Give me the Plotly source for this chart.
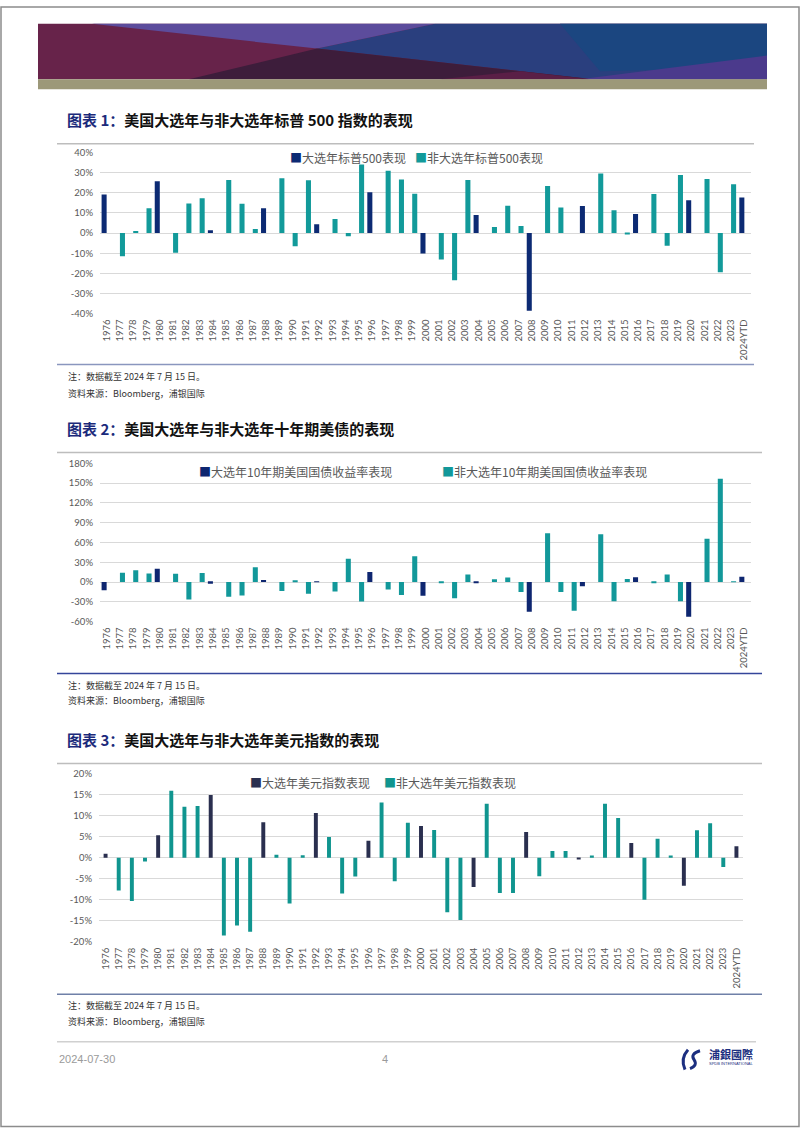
import plotly.graph_objects as go

W, H = 802, 1133

# ---------------- data ----------------
years = [str(y) for y in range(1976, 2024)] + ["2024YTD"]
election_years = ["1976", "1980", "1984", "1988", "1992", "1996", "2000", "2004",
                  "2008", "2012", "2016", "2020", "2024YTD"]

spx_returns = [19.15, -11.50, 1.06, 12.31, 25.77, -9.73, 14.76, 17.27, 1.40, 26.33,
               14.62, 2.03, 12.40, 27.25, -6.56, 26.31, 4.46, 7.06, -1.54, 34.11,
               20.26, 31.01, 26.67, 19.53, -10.14, -13.04, -23.37, 26.38, 8.99, 3.00,
               13.62, 3.53, -38.49, 23.45, 12.78, 0.00, 13.41, 29.60, 11.39, -0.73,
               9.54, 19.42, -6.24, 28.88, 16.26, 26.89, -19.44, 24.23, 17.7]

ust10y_change = [-12.5, 14.2, 17.8, 13.0, 20.2, 12.6, -26.5, 13.8, -2.5, -22.3,
                 -20.2, 22.6, 3.2, -13.6, 1.9, -17.8, -0.2, -14.3, 35.4, -29.6,
                 15.1, -11.3, -19.5, 38.9, -20.8, -1.2, -24.5, 11.4, -0.7, 4.2,
                 7.0, -15.0, -45.1, 74.0, -14.9, -43.3, -6.4, 72.4, -29.0, 4.6,
                 7.3, -1.2, 11.6, -29.0, -52.4, 65.6, 156.3, 0.3, 8.0]

dxy_change = [0.9, -7.8, -10.3, -0.9, 5.3, 15.9, 12.1, 12.3, 14.9, -18.5,
              -16.1, -17.6, 8.4, 0.7, -10.9, 0.6, 10.6, 4.9, -8.5, -4.5,
              4.0, 13.1, -5.6, 8.3, 7.5, 6.6, -13.0, -14.8, -7.0, 12.8,
              -8.4, -8.4, 6.1, -4.4, 1.6, 1.6, -0.4, 0.5, 12.8, 9.4,
              3.5, -10.0, 4.5, 0.5, -6.7, 6.5, 8.2, -2.2, 2.7]

spx_ticks = [-40, -30, -20, -10, 0, 10, 20, 30, 40]
spx_ticktext = ["-40%", "-30%", "-20%", "-10%", "0%", "10%", "20%", "30%", "40%"]
ust_ticks = [-60, -30, 0, 30, 60, 90, 120, 150, 180]
ust_ticktext = ["-60%", "-30%", "0%", "30%", "60%", "90%", "120%", "150%", "180%"]
dxy_ticks = [-20, -15, -10, -5, 0, 5, 10, 15, 20]
dxy_ticktext = ["-20%", "-15%", "-10%", "-5%", "0%", "5%", "10%", "15%", "20%"]

titles = ["图表 1：", "图表 2：", "图表 3："]
subtitles = ["美国大选年与非大选年标普 500 指数的表现",
             "美国大选年与非大选年十年期美债的表现",
             "美国大选年与非大选年美元指数的表现"]
legend_names = [("大选年标普500表现", "非大选年标普500表现"),
                ("大选年10年期美国国债收益率表现", "非大选年10年期美国国债收益率表现"),
                ("大选年美元指数表现", "非大选年美元指数表现")]
note_text = "注：数据截至 2024 年 7 月 15 日。"
source_text = "资料来源：Bloomberg，浦银国际"


# ---------------- helpers ----------------
def px(x):
    return x / W


def py(y):
    return 1 - y / H


def split(vals):
    big = [v if y in election_years else None for y, v in zip(years, vals)]
    non = [None if y in election_years else v for y, v in zip(years, vals)]
    return big, non


def poly(points):
    return "M " + " L ".join(f"{px(x):.5f},{py(y):.5f}" for x, y in points) + " Z"


fig = go.Figure()

CJK = "Noto Sans CJK SC"
TICKF = dict(family="Lato", size=9.5, color="#595959")

charts = [
    dict(vals=spx_returns, ax="", x0=100, x1=751, ytop=148, ybot=310.7,
         rng=[-40, 40], tv=spx_ticks, tt=spx_ticktext,
         c_big="#0C2A73", c_non="#129A9A", w=0.38, grouped=True,
         title_y=115, top_line=139, bot_line=362, line_x1=754, bot_color="#8A96BE",
         leg_y=153, leg_x=(288, 413), note_y=(374, 391)),
    dict(vals=ust10y_change, ax="2", x0=100, x1=751, ytop=461.7, ybot=621.7,
         rng=[-60, 180], tv=ust_ticks, tt=ust_ticktext,
         c_big="#0E2670", c_non="#12989A", w=0.38, grouped=True,
         title_y=427, top_line=451, bot_line=674, line_x1=762, bot_color="#34469A",
         leg_y=470, leg_x=(197, 440), note_y=(686, 701)),
    dict(vals=dxy_change, ax="3", x0=99, x1=743, ytop=775, ybot=945,
         rng=[-20, 20], tv=dxy_ticks, tt=dxy_ticktext,
         c_big="#2A2F4F", c_non="#10958F", w=0.3, grouped=False,
         title_y=741, top_line=765, bot_line=998, line_x1=762, bot_color="#6F80A8",
         leg_y=784, leg_x=(248, 382), note_y=(1009, 1025)),
]

shapes = []
annotations = []

for i, c in enumerate(charts):
    big, non = split(c["vals"])
    xa = "x" + c["ax"]
    ya = "y" + c["ax"]
    if c["grouped"]:
        off_big, off_non = -c["w"], 0.0
    else:
        off_big = off_non = -c["w"] / 2
    fig.add_trace(go.Bar(x=years, y=big, name=legend_names[i][0], marker_color=c["c_big"],
                         width=c["w"], offset=off_big, xaxis=xa, yaxis=ya,
                         showlegend=False, marker_line_width=0))
    fig.add_trace(go.Bar(x=years, y=non, name=legend_names[i][1], marker_color=c["c_non"],
                         width=c["w"], offset=off_non, xaxis=xa, yaxis=ya,
                         showlegend=False, marker_line_width=0))

    xkey = "xaxis" + c["ax"]
    ykey = "yaxis" + c["ax"]
    fig.update_layout(**{
        xkey: dict(domain=[px(c["x0"]), px(c["x1"])], anchor=ya, type="category",
                   showgrid=False, zeroline=False, showline=False, ticks="",
                   tickangle=-90, tickfont=TICKF, ticklabelstandoff=3,
                   range=[-0.5, len(years) - 0.5], fixedrange=True),
        ykey: dict(domain=[py(c["ybot"]), py(c["ytop"])], anchor=xa, range=c["rng"],
                   tickmode="array", tickvals=c["tv"], ticktext=c["tt"],
                   showgrid=True, gridcolor="#D9D9D9", gridwidth=1,
                   zeroline=False, showline=False, ticks="",
                   tickfont=TICKF, ticklabelstandoff=6, fixedrange=True),
    })

    shapes.append(dict(type="line", xref="paper", yref="paper",
                       x0=px(57), x1=px(c["line_x1"]), y0=py(c["top_line"]), y1=py(c["top_line"]),
                       line=dict(color="#BDBDBD", width=1.5)))
    shapes.append(dict(type="line", xref="paper", yref="paper",
                       x0=px(57), x1=px(c["line_x1"]), y0=py(c["bot_line"]), y1=py(c["bot_line"]),
                       line=dict(color=c["bot_color"], width=1.5)))

    annotations.append(dict(
        xref="paper", yref="paper", x=px(65), y=py(c["title_y"]), xanchor="left", yanchor="middle",
        showarrow=False,
        text=f'<b><span style="color:#1B2A7B">{titles[i]}</span>{subtitles[i]}</b>',
        font=dict(family=CJK, size=15, color="#111111")))

    for k, col in enumerate([c["c_big"], c["c_non"]]):
        annotations.append(dict(
            xref="paper", yref="paper", x=px(c["leg_x"][k]), y=py(c["leg_y"]),
            xanchor="left", yanchor="middle", showarrow=False,
            text=f'<span style="color:{col}">■</span>{legend_names[i][k]}',
            font=dict(family=CJK, size=12, color="#595959")))

    for k, t in enumerate([note_text, source_text]):
        annotations.append(dict(
            xref="paper", yref="paper", x=px(66), y=py(c["note_y"][k]),
            xanchor="left", yanchor="middle", showarrow=False, text=t,
            font=dict(family=CJK, size=9, color="#333333")))

# ---------------- header banner ----------------
banner = [
    ([(38, 18), (767, 18), (767, 74), (38, 74)], "#67234A"),
    ([(435, 18), (767, 18), (767, 74), (593, 74), (317, 43)], "#2A3F7E"),
    ([(560, 18), (767, 18), (767, 62), (600, 66)], "#1B4680"),
    ([(92, 18), (435, 18), (317, 43)], "#5C4C9C"),
    ([(189, 74), (593, 74), (317, 43)], "#3D1D3B"),
    ([(580, 74), (767, 74), (767, 50)], "#4B3A8C"),
    ([(440, 74), (590, 74), (520, 66)], "#5A1F46"),
    ([(38, 74), (767, 74), (767, 84), (38, 84)], "#9C9879"),
]
for pts, col in banner:
    shapes.append(dict(type="path", xref="paper", yref="paper", path=poly(pts),
                       fillcolor=col, line=dict(width=0), layer="below"))

shapes.append(dict(type="rect", xref="paper", yref="paper",
                   x0=px(1), x1=px(799), y0=py(1131.5), y1=py(1),
                   line=dict(color="#8C8C8C", width=1.5)))

# ---------------- footer ----------------
shapes.append(dict(type="line", xref="paper", yref="paper",
                   x0=px(57), x1=px(756), y0=py(1046), y1=py(1046),
                   line=dict(color="#D0D0D0", width=1.5)))
annotations.append(dict(xref="paper", yref="paper", x=px(57), y=py(1063), xanchor="left",
                        yanchor="middle", showarrow=False, text="2024-07-30",
                        font=dict(family="Liberation Sans", size=11, color="#9A9A9A")))
annotations.append(dict(xref="paper", yref="paper", x=px(385), y=py(1063), xanchor="center",
                        yanchor="middle", showarrow=False, text="4",
                        font=dict(family="Liberation Sans", size=11, color="#9A9A9A")))
shapes.append(dict(type="path", xref="paper", yref="paper",
                   path=f"M {px(688):.5f},{py(1054):.5f} Q {px(680):.5f},{py(1063):.5f} {px(685):.5f},{py(1074):.5f}",
                   line=dict(color="#1C2F80", width=3)))
shapes.append(dict(type="path", xref="paper", yref="paper",
                   path=f"M {px(700):.5f},{py(1055):.5f} Q {px(690):.5f},{py(1058):.5f} {px(694):.5f},{py(1064):.5f} "
                        f"Q {px(698):.5f},{py(1070):.5f} {px(690):.5f},{py(1073):.5f}",
                   line=dict(color="#1C2F80", width=3)))
annotations.append(dict(xref="paper", yref="paper", x=px(707), y=py(1058), xanchor="left",
                        yanchor="middle", showarrow=False, text="<b>浦銀國際</b>",
                        font=dict(family="Noto Sans CJK TC", size=11, color="#1C2F80")))
annotations.append(dict(xref="paper", yref="paper", x=px(707), y=py(1068), xanchor="left",
                        yanchor="middle", showarrow=False, text="SPDB INTERNATIONAL",
                        font=dict(family="Liberation Sans", size=4, color="#1C2F80")))

fig.update_layout(
    width=W, height=H, margin=dict(l=0, r=0, t=0, b=0, pad=0),
    paper_bgcolor="white", plot_bgcolor="white",
    barmode="overlay", showlegend=False,
    shapes=shapes, annotations=annotations,
    font=dict(family=CJK),
)

fig.write_html("out.html", config={"displayModeBar": False})
